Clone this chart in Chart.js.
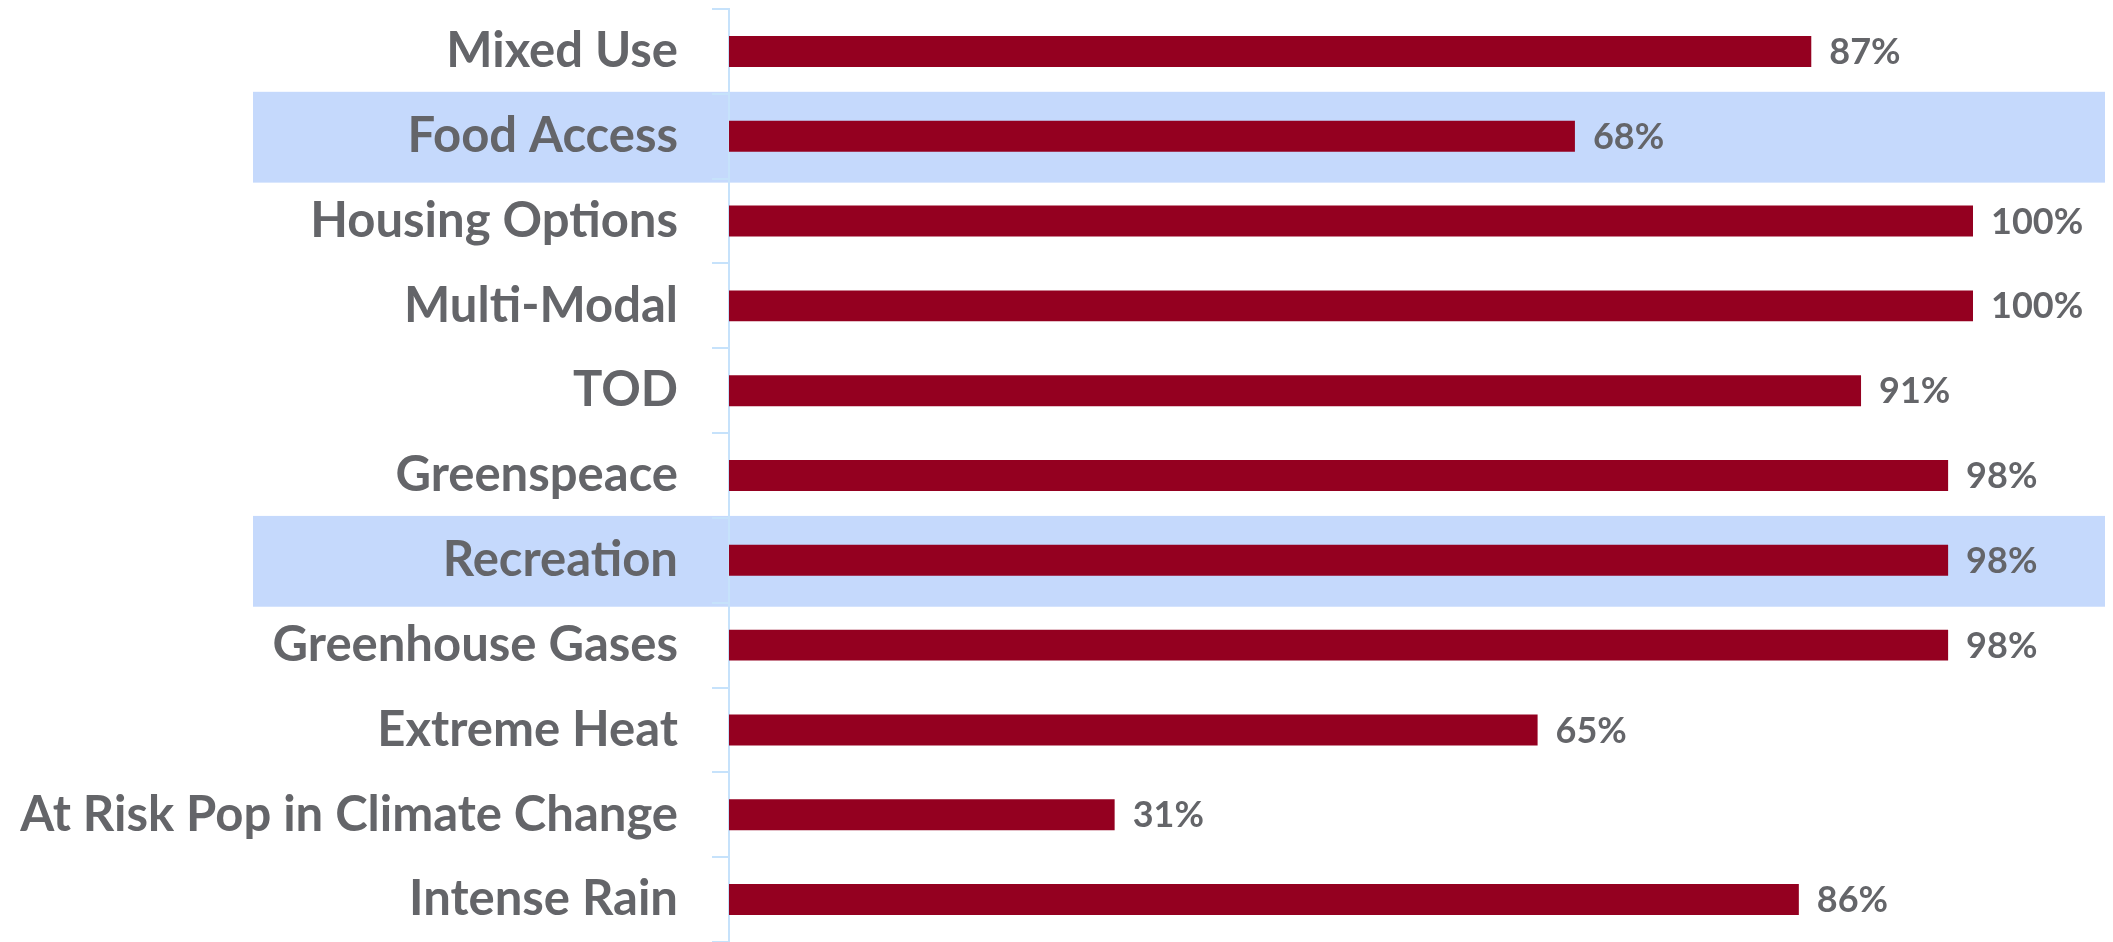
<!DOCTYPE html>
<html>
<head>
<meta charset="utf-8">
<script src="https://cdn.jsdelivr.net/npm/chart.js@4.4.1/dist/chart.umd.min.js"></script>
<style>
    html, body { margin: 0; padding: 0; background: #ffffff; }
    #wrap { width: 2113px; height: 942px; position: relative; }
</style>
</head>
<body>
<div id="wrap"><canvas id="graficoIndicadores"></canvas></div>
<script>
// indicadores e percentuais
const categorias = [
    "Mixed Use",
    "Food Access",
    "Housing Options",
    "Multi-Modal",
    "TOD",
    "Greenspeace",
    "Recreation",
    "Greenhouse Gases",
    "Extreme Heat",
    "At Risk Pop in Climate Change",
    "Intense Rain"
];
const percentuais = [87, 68, 100, 100, 91, 98, 98, 98, 65, 31, 86];
// linhas com faixa azul de destaque
const destaques = ["Food Access", "Recreation"];

const corTexto = "#646569";
const corBarra = "#940020";
const corFaixa = "#c5d9fc";
const corEixo = "#c6e2fb";

// faixa azul atras das linhas destacadas
const faixasPlugin = {
    id: "faixas",
    beforeDraw(chart) {
        const ctx = chart.ctx;
        const y = chart.scales.y;
        const passo = y.getPixelForValue(1) - y.getPixelForValue(0);
        ctx.save();
        ctx.fillStyle = corFaixa;
        destaques.forEach(nome => {
            const i = categorias.indexOf(nome);
            const centro = y.getPixelForValue(i);
            ctx.fillRect(253, centro - passo / 2 - 2, 2105 - 253, passo + 6);
        });
        ctx.restore();
    }
};

// rotulo de valor no fim de cada barra
const rotulosPlugin = {
    id: "rotulos",
    afterDatasetsDraw(chart) {
        const ctx = chart.ctx;
        const meta = chart.getDatasetMeta(0);
        ctx.save();
        ctx.font = "bold 36px Lato";
        ctx.fillStyle = corTexto;
        ctx.textAlign = "left";
        ctx.textBaseline = "middle";
        meta.data.forEach((barra, i) => {
            ctx.fillText(percentuais[i] + "%", barra.x + 18, barra.y + 1);
        });
        ctx.restore();
    }
};

const ctx = document.getElementById("graficoIndicadores").getContext("2d");

new Chart(ctx, {
    type: "bar",
    data: {
        labels: categorias,
        datasets: [{
            data: percentuais,
            backgroundColor: corBarra,
            barPercentage: 0.365,
            categoryPercentage: 1
        }]
    },
    options: {
        indexAxis: "y",
        responsive: true,
        maintainAspectRatio: false,
        animation: false,
        layout: {
            padding: { top: 9, right: 140, bottom: 0, left: 0 }
        },
        plugins: {
            legend: { display: false },
            tooltip: { enabled: false }
        },
        scales: {
            x: {
                display: false,
                min: 0,
                max: 100
            },
            y: {
                // eixo com largura fixa e sem folga extra em cima/embaixo
                afterFit(scale) {
                    scale.width = 729;
                    scale.paddingTop = 0;
                    scale.paddingBottom = 0;
                },
                border: { color: corEixo, width: 2 },
                grid: {
                    color: corEixo,
                    lineWidth: 2,
                    drawOnChartArea: false,
                    drawTicks: true,
                    tickLength: 17
                },
                ticks: {
                    color: corTexto,
                    padding: 34,
                    font: { family: "Lato", weight: "bold", size: 49 }
                }
            }
        }
    },
    plugins: [faixasPlugin, rotulosPlugin]
});
</script>
</body>
</html>
